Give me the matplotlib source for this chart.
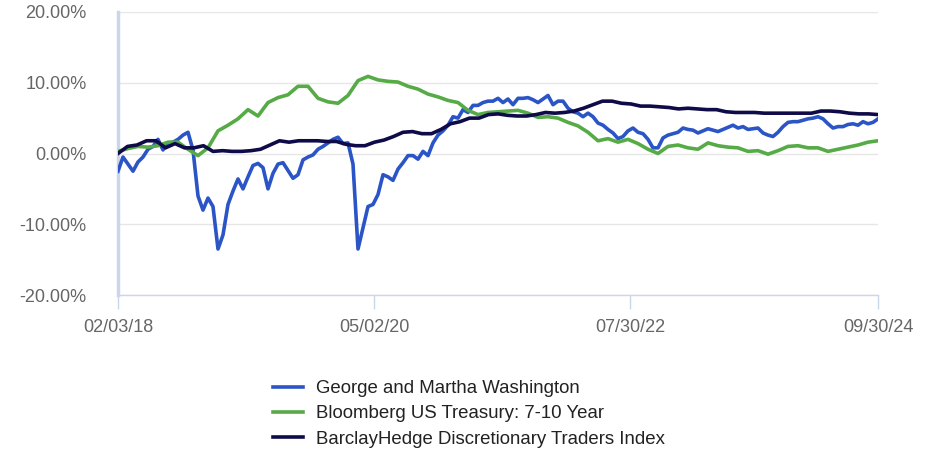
import numpy as np
import pandas as pd
import matplotlib
matplotlib.use("Agg")
import matplotlib.pyplot as plt
import matplotlib.dates as mdates
from matplotlib.lines import Line2D
from matplotlib.ticker import FuncFormatter

plt.rcParams['font.family'] = ['Liberation Sans', 'DejaVu Sans']

start = "2018-02-03"
end = "2024-09-30"

# George and Martha Washington (cumulative return, %)
gmw = [-2.5, -0.5, -1.5, -2.5, -1.2, -0.5, 0.6, 1.0, 2.0, 0.5,
       1.5, 1.6, 2.0, 2.6, 3.0, 0.5, -6.0, -8.0, -6.3, -7.5,
       -13.5, -11.5, -7.2, -5.3, -3.6, -5.0, -3.3, -1.7, -1.4, -2.0,
       -5.0, -2.8, -1.5, -1.3, -2.4, -3.5, -3.0, -0.9, -0.5, -0.2,
       0.6, 1.0, 1.5, 2.0, 2.3, 1.4, 1.5, -1.5, -13.5, -10.5,
       -7.5, -7.2, -5.8, -3.0, -3.3, -3.8, -2.2, -1.3, -0.3, -0.3,
       -0.8, 0.3, -0.3, 1.5, 2.6, 3.2, 4.0, 5.2, 5.0, 6.2,
       5.8, 6.8, 6.8, 7.2, 7.4, 7.4, 7.8, 7.2, 7.7, 6.9,
       7.8, 7.8, 7.9, 7.6, 7.2, 7.7, 8.2, 6.9, 7.4, 7.4,
       6.4, 5.9, 5.7, 5.2, 5.7, 5.2, 4.3, 4.0, 3.4, 2.9,
       2.1, 2.4, 3.2, 3.6, 3.0, 2.8, 2.0, 0.8, 0.8, 2.2,
       2.6, 2.8, 3.0, 3.6, 3.4, 3.3, 2.9, 3.2, 3.5, 3.3,
       3.1, 3.4, 3.7, 4.0, 3.6, 3.8, 3.4, 3.5, 3.6, 2.9,
       2.6, 2.4, 3.0, 3.8, 4.4, 4.5, 4.5, 4.7, 4.9, 5.0,
       5.2, 4.9, 4.2, 3.6, 3.8, 3.8, 4.1, 4.2, 4.0, 4.5,
       4.2, 4.4, 4.9]

# Bloomberg US Treasury: 7-10 Year
treasury = [0.3, 0.7, 1.0, 0.9, 1.1, 1.6, 1.6, 0.6, -0.3, 0.8,
            3.2, 4.0, 4.9, 6.2, 5.3, 7.2, 7.9, 8.3, 9.5, 9.5,
            7.8, 7.3, 7.1, 8.2, 10.3, 10.9, 10.4, 10.2, 10.1, 9.5,
            9.1, 8.4, 8.0, 7.5, 7.2, 6.1, 5.5, 5.8, 5.9, 6.0,
            6.1, 5.7, 5.1, 5.2, 5.0, 4.4, 3.9, 3.0, 1.8, 2.1,
            1.6, 2.0, 1.4, 0.6, 0.0, 1.0, 1.2, 0.8, 0.6, 1.5,
            1.1, 0.9, 0.8, 0.3, 0.4, -0.1, 0.4, 1.0, 1.1, 0.8,
            0.8, 0.3, 0.6, 0.9, 1.2, 1.6, 1.8]

# BarclayHedge Discretionary Traders Index (monthly)
barclay = [0.0, 1.0, 1.2, 1.8, 1.8, 0.8, 1.4, 0.8, 0.8, 1.1,
           0.3, 0.4, 0.3, 0.3, 0.4, 0.6, 1.2, 1.8, 1.6, 1.8,
           1.8, 1.8, 1.7, 1.7, 1.3, 1.1, 1.1, 1.6, 1.9, 2.4,
           3.0, 3.1, 2.8, 2.8, 3.4, 4.2, 4.5, 5.0, 5.0, 5.5,
           5.6, 5.4, 5.3, 5.3, 5.5, 5.8, 5.7, 5.8, 6.0, 6.4,
           6.9, 7.4, 7.4, 7.1, 7.0, 6.7, 6.7, 6.6, 6.5, 6.3,
           6.4, 6.3, 6.2, 6.2, 5.9, 5.8, 5.8, 5.8, 5.7, 5.7,
           5.7, 5.7, 5.7, 5.7, 6.0, 6.0, 5.9, 5.7, 5.6, 5.6,
           5.5]

labels = ["George and Martha Washington",
          "Bloomberg US Treasury: 7-10 Year",
          "BarclayHedge Discretionary Traders Index"]
colors = ["#2b55c6", "#56ab47", "#0e0b48"]
tick_dates = ["2018-02-03", "2020-05-02", "2022-07-30", "2024-09-30"]
y_ticks = [-20, -10, 0, 10, 20]

fig = plt.figure(figsize=(9.41, 4.51), dpi=100)
ax = fig.add_axes([118 / 941, 1 - 295 / 451, 760 / 941, 283 / 451])

series = [gmw, treasury, barclay]
for vals, lab, col in zip(series, labels, colors):
    d = pd.date_range(start, end, periods=len(vals))
    ax.plot(d, vals, color=col, lw=2.6, label=lab, solid_joinstyle="round", zorder=3)

ax.set_xlim(pd.Timestamp(start), pd.Timestamp(end))
ax.set_ylim(-20, 20)
ax.set_yticks(y_ticks)
ax.yaxis.set_major_formatter(FuncFormatter(lambda v, p: "%.2f%%" % v))
ax.set_xticks(pd.to_datetime(tick_dates))
ax.xaxis.set_major_formatter(mdates.DateFormatter("%m/%d/%y"))

ax.grid(axis="y", color="#e6e6e6", lw=1)
ax.set_axisbelow(True)
for s in ["top", "right"]:
    ax.spines[s].set_visible(False)
ax.spines["left"].set_color("#ccd6eb")
ax.spines["left"].set_linewidth(2.5)
ax.spines["bottom"].set_color("#ccd6eb")
ax.spines["bottom"].set_linewidth(1)

ax.tick_params(axis="y", length=0, pad=22.5, labelsize=13, labelcolor="#666666")
ax.tick_params(axis="x", length=10, width=1, color="#ccd6eb", pad=7,
               labelsize=13, labelcolor="#666666")

handles = [Line2D([], [], color=c, lw=2.6) for c in colors]
fig.legend(handles, labels, loc="upper left", bbox_to_anchor=(273 / 941, 1 - 380 / 451),
           frameon=False, fontsize=13.4, handlelength=1.62, handletextpad=0.7,
           labelspacing=0.45, borderpad=0, borderaxespad=0, labelcolor="#222222")

fig.savefig("out.png", dpi=100)
